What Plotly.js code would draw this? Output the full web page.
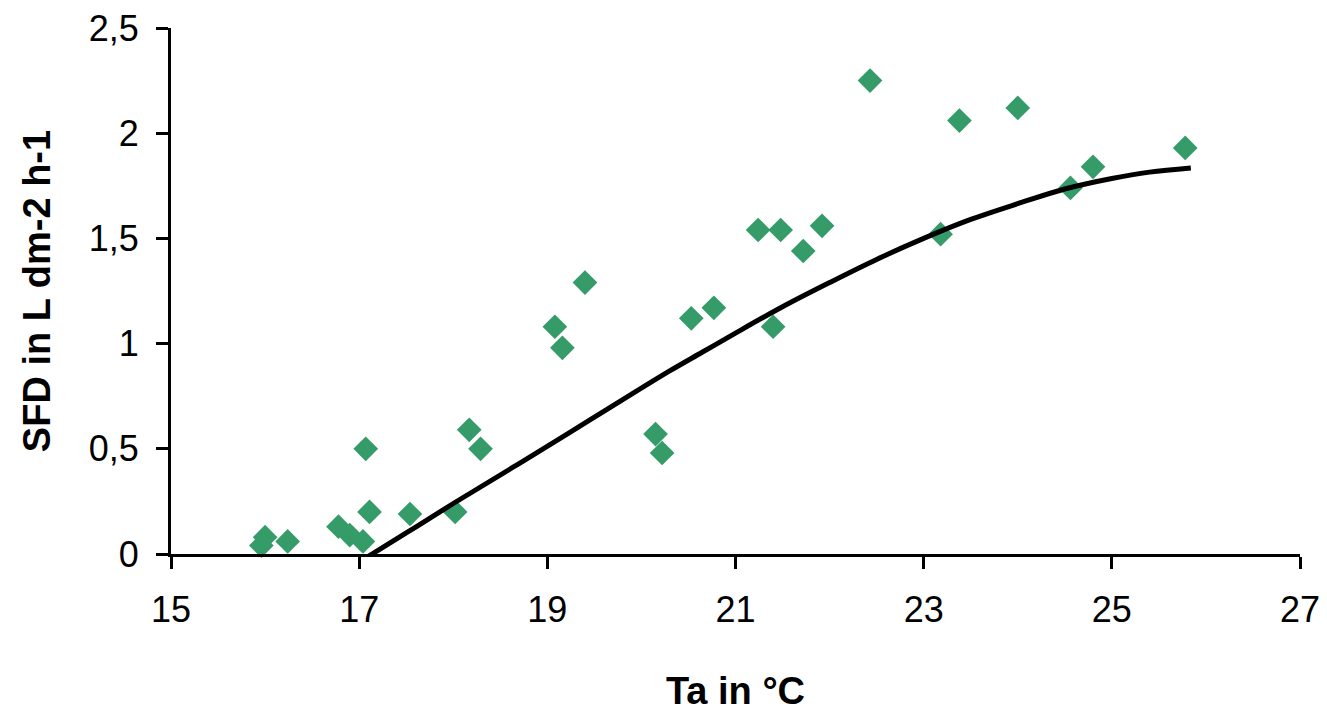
<!DOCTYPE html>
<html>
<head>
<meta charset="utf-8">
<script src="https://cdn.plot.ly/plotly-3.0.1.min.js"></script>
<style>html,body{margin:0;padding:0;background:#fff;}#chart{width:1327px;height:712px;}</style>
</head>
<body>
<div id="chart"></div>
<script>
// Observed data: air temperature (Ta, °C) vs sap flux density (SFD, L dm-2 h-1)
const ta  = [15.96, 16.00, 16.24, 16.78, 16.90, 17.04, 17.07, 17.11, 17.54, 18.02, 18.17, 18.29,
             19.08, 19.16, 19.40, 20.15, 20.22, 20.53, 20.77, 21.24, 21.40, 21.48, 21.72, 21.92,
             22.43, 23.18, 23.38, 24.00, 24.56, 24.80, 25.78];
const sfd = [0.04, 0.08, 0.06, 0.13, 0.09, 0.06, 0.50, 0.20, 0.19, 0.20, 0.59, 0.50,
             1.08, 0.98, 1.29, 0.57, 0.48, 1.12, 1.17, 1.54, 1.08, 1.54, 1.44, 1.56,
             2.25, 1.52, 2.06, 2.12, 1.74, 1.84, 1.93];

// Trend curve
const fitX = [17.03, 17.5, 18.0, 18.7, 19.5, 20.3, 20.65, 21.0, 21.5, 22.0, 22.5, 23.0, 23.5, 24.0, 24.5, 25.0, 25.4, 25.84];
const fitY = [-0.03, 0.10, 0.24, 0.43, 0.65, 0.87, 0.96, 1.05, 1.175, 1.29, 1.40, 1.50, 1.59, 1.665, 1.735, 1.785, 1.815, 1.835];

const xTicks = [15, 17, 19, 21, 23, 25, 27];
const yTicks = [0, 0.5, 1, 1.5, 2, 2.5];
const yTickLabels = ['0', '0,5', '1', '1,5', '2', '2,5'];

const font = 'Liberation Sans, Arial, sans-serif';

const data = [
  {
    x: ta, y: sfd, type: 'scatter', mode: 'markers',
    marker: {symbol: 'diamond', size: 19, color: '#359B68', line: {width: 0}},
    cliponaxis: false, showlegend: false, hoverinfo: 'x+y'
  },
  {
    x: fitX, y: fitY, type: 'scatter', mode: 'lines',
    line: {color: '#000000', width: 5, shape: 'spline', smoothing: 1},
    showlegend: false, hoverinfo: 'skip'
  }
];

const layout = {
  width: 1327, height: 712,
  margin: {l: 171, r: 27, t: 28, b: 158, pad: 0},
  paper_bgcolor: '#ffffff', plot_bgcolor: '#ffffff',
  font: {family: font, color: '#000000'},
  xaxis: {
    range: [15, 27], tickmode: 'array', tickvals: xTicks, ticktext: xTicks.map(String),
    showgrid: false, zeroline: false, showline: true, linecolor: '#000', linewidth: 3,
    ticks: 'outside', ticklen: 12, tickwidth: 3, tickcolor: '#000',
    tickfont: {family: font, size: 36, color: '#000'}, ticklabelstandoff: 10,
    title: {text: '<b>Ta in °C</b>', font: {family: font, size: 38, color: '#000'}, standoff: 50}
  },
  yaxis: {
    range: [0, 2.5], tickmode: 'array', tickvals: yTicks, ticktext: yTickLabels,
    showgrid: false, zeroline: false, showline: true, linecolor: '#000', linewidth: 3,
    ticks: 'outside', ticklen: 12, tickwidth: 3, tickcolor: '#000',
    tickfont: {family: font, size: 36, color: '#000'}, ticklabelstandoff: 10,
    title: {text: '<b>SFD in L dm-2 h-1</b>', font: {family: font, size: 38, color: '#000'}, standoff: 27}
  }
};

Plotly.newPlot('chart', data, layout, {displayModeBar: false, staticPlot: true});
</script>
</body>
</html>
